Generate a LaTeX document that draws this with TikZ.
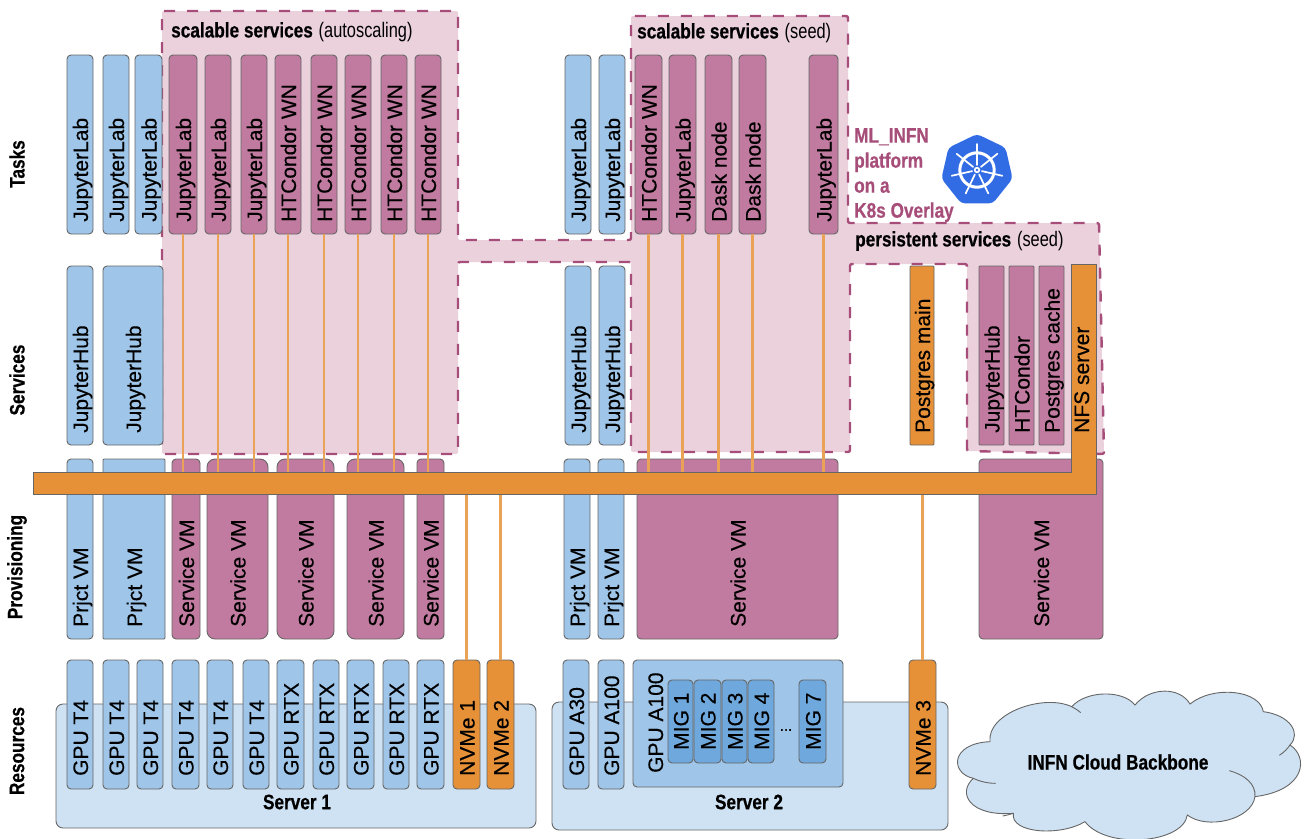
\documentclass[tikz,border=0pt]{standalone}
\usepackage{fontspec}
\setmainfont{Liberation Sans}
\newfontfamily\boxf[FakeBold=0.35]{Liberation Sans}
\newfontfamily\oswb[FakeStretch=0.82,FakeBold=0.5]{Liberation Sans}
\newfontfamily\oswr[FakeStretch=0.78]{Liberation Sans}
\definecolor{cblue}{HTML}{9FC5E8}
\definecolor{cserver}{HTML}{CFE2F3}
\definecolor{cmig}{HTML}{6FA8DC}
\definecolor{cmag}{HTML}{C27BA0}
\definecolor{cpink}{HTML}{EAD1DC}
\definecolor{cdash}{HTML}{A64D79}
\definecolor{corg}{HTML}{E69138}
\definecolor{cline}{HTML}{666666}
\definecolor{ck8s}{HTML}{326CE5}
\tikzset{
  bxbase/.style={draw=cline,line width=0.9pt,inner sep=0pt,outer sep=0pt,rounded corners=4pt},
  bxblue/.style={bxbase,fill=cblue},
  bxmag/.style={bxbase,fill=cmag},
  bxorg/.style={bxbase,fill=corg},
  bxmig/.style={bxbase,fill=cmig},
  bxserver/.style={bxbase,fill=cserver},
  bigr/.style={rounded corners=8pt},
  sq/.style={rounded corners=1pt},
  boxtext/.style={rotate=90,anchor=base west,inner sep=0pt,font=\fontsize{21}{21}\selectfont\boxf},
  head/.style={anchor=west,inner sep=0pt,font=\fontsize{21}{21}\selectfont},
  axis/.style={rotate=90,inner sep=0pt,font=\fontsize{21}{21}\selectfont\oswb\bfseries},
  bold/.style={inner sep=0pt,font=\fontsize{21}{21}\selectfont\oswb\bfseries},
  wire/.style={draw=corg!85!white,line width=2.4pt},
  group/.style={draw=cdash,fill=cpink,line width=2.4pt,dash pattern=on 11pt off 12pt,rounded corners=2pt},
}
% name, style, x1, x2, y1, y2, text baseline start y, text
\newcommand{\bx}[8]{%
  \node[#2,minimum width={(#4-#3)*1pt},minimum height={(#6-#5)*1pt}] (#1) at ({(#3+#4)/2},{(#5+#6)/2}) {};
  \node[boxtext] (#1t) at ({(#3+#4)/2+8},#7) {#8};
}
\newcommand{\hd}[2]{{\oswb\bfseries #1} {\oswr #2}}
\begin{document}
\begin{tikzpicture}[x=1pt,y=-1pt]
\useasboundingbox (0,0) rectangle (1308,838);
% pink service region
\draw[group] (162,11) -- (458,11) -- (458,240) -- (631,240) -- (631,16) -- (848,16) -- (848,223)
  -- (1099,223) -- (1104,454) -- (967,451) -- (967,264) -- (850,264) -- (850,452) -- (631,452)
  -- (631,262) -- (458,262) -- (458,454) -- (162,454) -- cycle;
% servers
\node[bxserver,rounded corners=7pt,minimum width=480pt,minimum height=124pt] (srv1) at (296,766) {};
\node[bxserver,rounded corners=7pt,minimum width=396pt,minimum height=128pt] (srv2) at (750,766) {};
% provisioning
\bx{p1}{bxblue}{67}{93}{459}{639}{627}{Prjct VM}
\bx{p2}{bxblue,sq}{103}{165}{459}{639}{627}{Prjct VM}
\bx{p3}{bxmag}{172}{200}{459}{639}{627}{Service VM}
\bx{p4}{bxmag,bigr}{207}{268}{459}{639}{627}{Service VM}
\bx{p5}{bxmag,bigr}{277}{334}{459}{639}{627}{Service VM}
\bx{p6}{bxmag,bigr}{347}{404}{459}{639}{627}{Service VM}
\bx{p7}{bxmag}{417}{444}{459}{639}{627}{Service VM}
\bx{p8}{bxblue}{564}{590}{459}{639}{627}{Prjct VM}
\bx{p9}{bxblue}{598}{624}{459}{639}{627}{Prjct VM}
\bx{p10}{bxmag}{637}{838}{459}{639}{627}{Service VM}
\bx{p11}{bxmag}{979}{1103}{459}{639}{627}{Service VM}
% tasks
\bx{t1}{bxblue}{67}{93}{55}{234}{222}{JupyterLab}
\bx{t2}{bxblue}{103}{129}{55}{234}{222}{JupyterLab}
\bx{t3}{bxblue}{135}{162}{55}{234}{222}{JupyterLab}
\bx{a1}{bxmag}{169}{197}{55}{234}{222}{JupyterLab}
\bx{a2}{bxmag}{205}{231}{55}{234}{222}{JupyterLab}
\bx{a3}{bxmag}{241}{267}{55}{234}{222}{JupyterLab}
\bx{a4}{bxmag}{275}{301}{55}{234}{222}{HTCondor WN}
\bx{a5}{bxmag}{311}{337}{55}{234}{222}{HTCondor WN}
\bx{a6}{bxmag}{345}{371}{55}{234}{222}{HTCondor WN}
\bx{a7}{bxmag}{381}{407}{55}{234}{222}{HTCondor WN}
\bx{a8}{bxmag}{415}{441}{55}{234}{222}{HTCondor WN}
\bx{t4}{bxblue}{565}{591}{55}{234}{222}{JupyterLab}
\bx{t5}{bxblue}{599}{625}{55}{234}{222}{JupyterLab}
\bx{b1}{bxmag}{635}{662}{55}{234}{222}{HTCondor WN}
\bx{b2}{bxmag}{669}{696}{55}{234}{222}{JupyterLab}
\bx{b3}{bxmag}{705}{732}{55}{234}{222}{Dask node}
\bx{b4}{bxmag}{739}{766}{55}{234}{222}{Dask node}
\bx{b5}{bxmag}{809}{838}{55}{234}{222}{JupyterLab}
% services
\bx{s1}{bxblue}{67}{93}{266}{445}{433}{JupyterHub}
\bx{s2}{bxblue}{103}{163}{266}{445}{433}{JupyterHub}
\bx{s3}{bxblue}{565}{591}{266}{445}{433}{JupyterHub}
\bx{s4}{bxblue}{599}{625}{266}{445}{433}{JupyterHub}
\bx{s5}{bxorg,sq}{910}{934}{266}{445}{433}{Postgres main}
\bx{s6}{bxmag,sq}{979}{1004}{266}{445}{433}{JupyterHub}
\bx{s7}{bxmag,sq}{1009}{1034}{266}{445}{433}{HTCondor}
\bx{s8}{bxmag,sq}{1039}{1064}{266}{445}{433}{Postgres cache}
% resources
\bx{g1}{bxblue}{67}{93}{660}{789}{776}{GPU T4}
\bx{g2}{bxblue}{103}{129}{660}{789}{776}{GPU T4}
\bx{g3}{bxblue}{137}{163}{660}{789}{776}{GPU T4}
\bx{g4}{bxblue}{172}{199}{660}{789}{776}{GPU T4}
\bx{g5}{bxblue}{207}{233}{660}{789}{776}{GPU T4}
\bx{g6}{bxblue}{243}{269}{660}{789}{776}{GPU T4}
\bx{g7}{bxblue}{277}{304}{660}{789}{776}{GPU RTX}
\bx{g8}{bxblue}{313}{339}{660}{789}{776}{GPU RTX}
\bx{g9}{bxblue}{347}{374}{660}{789}{776}{GPU RTX}
\bx{g10}{bxblue}{383}{409}{660}{789}{776}{GPU RTX}
\bx{g11}{bxblue}{417}{444}{660}{789}{776}{GPU RTX}
\bx{nv1}{bxorg}{453}{480}{660}{789}{776}{NVMe 1}
\bx{nv2}{bxorg}{487}{514}{660}{789}{776}{NVMe 2}
\bx{g12}{bxblue}{563}{589}{660}{789}{776}{GPU A30}
\bx{g13}{bxblue}{598}{624}{660}{789}{776}{GPU A100}
\bx{g14}{bxblue}{633}{843}{660}{787}{773}{}
\node[boxtext] (g14l) at (663,773) {GPU A100};
\bx{m1}{bxmig}{668}{693}{680}{763}{750}{MIG 1}
\bx{m2}{bxmig}{694}{721}{680}{763}{750}{MIG 2}
\bx{m3}{bxmig}{722}{747}{680}{763}{750}{MIG 3}
\bx{m4}{bxmig}{748}{774}{680}{763}{750}{MIG 4}
\bx{m7}{bxmig}{799}{826}{680}{763}{750}{MIG 7}
\node[inner sep=0pt,font=\fontsize{15}{15}\selectfont\boxf] (mdots) at (786,730) {...};
\bx{nv3}{bxorg}{909}{936}{660}{789}{776}{NVMe 3}
% storage bus
\node[inner sep=0pt,outer sep=0pt,minimum width=1063pt,minimum height=22pt] (bus) at (564.5,483) {};
\node[inner sep=0pt,outer sep=0pt,minimum width=25pt,minimum height=230pt] (nfs) at (1083.5,379) {};
% connectors
\foreach \n in {a1,a2,a3,a4,a5,a6,a7,a8,b1,b2,b3,b4,b5}
  \draw[wire] (\n.south) -- (\n.south |- bus.north);
\foreach \n in {nv1,nv2,nv3}
  \draw[wire] (\n.north) -- (\n.north |- bus.south);
\draw[draw=cline,line width=0.9pt,fill=corg] (bus.north west) -- (nfs.north west |- bus.north) -- (nfs.north west)
  -- (nfs.north east) -- (nfs.south east) -- (bus.south west) -- cycle;
\node[boxtext] (nfst) at (1089,433) {NFS server};
% group headings
\node[head] (h1) at (171,32) {\hd{scalable services}{(autoscaling)}};
\node[head] (h2) at (637,33) {\hd{scalable services}{(seed)}};
\node[head] (h3) at (855,241) {\hd{persistent services}{(seed)}};
\node[anchor=north west,inner sep=0pt,align=left,text=cdash,font=\fontsize{21}{25}\selectfont\oswb\bfseries] (ovl) at (854,128)
  {ML\_INFN\\platform\\on a\\K8s Overlay};
% axis labels
\node[axis] (l1) at (17,164) {Tasks};
\node[axis] (l2) at (17,380) {Services};
\node[axis] (l3) at (17,567) {Provisioning};
\node[axis] (l4) at (17,751) {Resources};
\node[bold] (sv1) at (297,802) {Server 1};
\node[bold] (sv2) at (749,802) {Server 2};
% kubernetes logo
\foreach \k in {0,...,6}
  \coordinate (h\k) at ({977+36.5*cos(-90+\k*360/7)},{170.5+36.5*sin(-90+\k*360/7)});
\fill[ck8s,rounded corners=4pt] (h0) -- (h1) -- (h2) -- (h3) -- (h4) -- (h5) -- (h6) -- cycle;
\draw[white,line width=3pt] (977,170) circle (17.2pt);
\foreach \k in {0,...,6}
  \draw[white,line width=1.7pt,line cap=round] ({977+5*cos(-90+\k*360/7)},{170+5*sin(-90+\k*360/7)})
    -- ({977+26*cos(-90+\k*360/7)},{170+26*sin(-90+\k*360/7)});
\fill[white] (977,170) circle (3.2pt);
\fill[ck8s] (977,170) circle (1.4pt);
% cloud
\begin{scope}[shift={(950,680)},x=0.3333pt,y=-0.3333pt]
\draw[draw=cline,line width=0.9pt,fill=cserver]
  (120,185) .. controls (110,100) and (280,40) .. (365,80)
  .. controls (410,30) and (520,30) .. (555,75)
  .. controls (600,20) and (690,20) .. (720,72)
  .. controls (790,15) and (930,30) .. (940,95)
  .. controls (1020,105) and (1055,160) .. (1020,195)
  .. controls (1075,230) and (1070,330) .. (915,350)
  .. controls (905,420) and (770,450) .. (712,405)
  .. controls (700,490) and (470,510) .. (405,425)
  .. controls (330,470) and (180,460) .. (190,400)
  .. controls (60,410) and (20,340) .. (70,295)
  .. controls (0,280) and (0,190) .. (120,185) -- cycle;
\draw[draw=cline,line width=0.9pt] (365,80) .. controls (375,85) and (383,90) .. (392,98);
\draw[draw=cline,line width=0.9pt] (1020,195) .. controls (1012,207) and (1002,217) .. (988,226);
\draw[draw=cline,line width=0.9pt] (915,350) .. controls (918,312) and (885,285) .. (838,272);
\draw[draw=cline,line width=0.9pt] (190,400) .. controls (180,403) and (170,406) .. (158,408);
\draw[draw=cline,line width=0.9pt] (70,295) .. controls (90,305) and (115,310) .. (137,310);
\end{scope}
\node[bold] (cl) at (1118,762) {INFN Cloud Backbone};
\end{tikzpicture}
\end{document}
